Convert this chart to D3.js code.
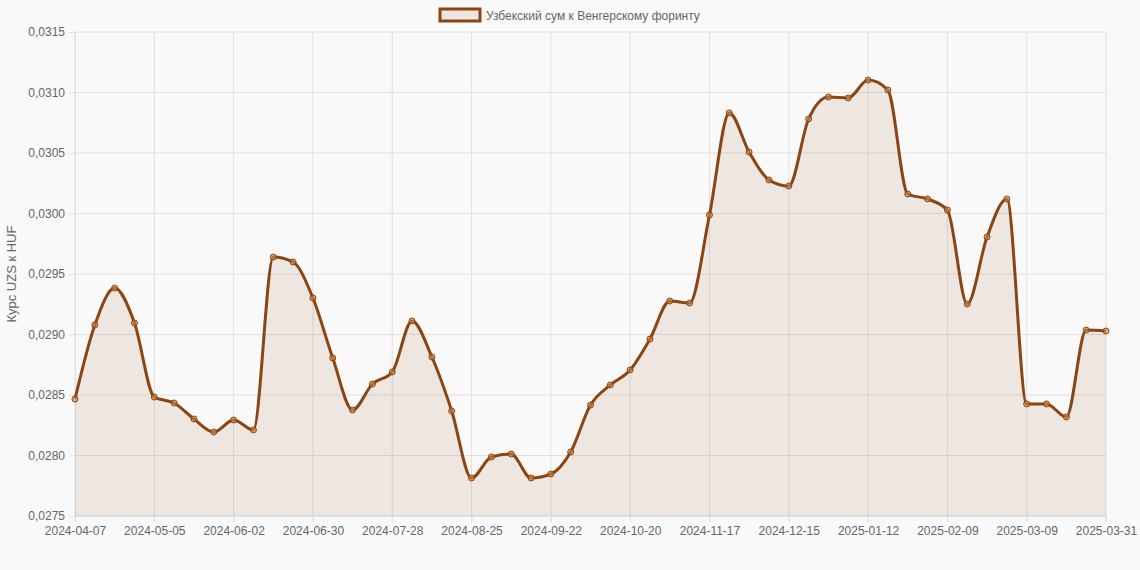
<!DOCTYPE html>
<html>
<head>
<meta charset="UTF-8">
<style>
  body { margin: 0; background: #f9f9f9; font-family: "Liberation Sans", Arial, sans-serif; }
  .grid line { stroke: #e0e0e0; }
  .axis text { fill: #666; font-size: 12px; }
</style>
</head>
<body>
<div id="chart"></div>
<script src="https://d3js.org/d3.v7.min.js"></script>
<script>
// Weekly dates (category labels)
const dates = [
  "2024-04-07","2024-04-14","2024-04-21","2024-04-28","2024-05-05","2024-05-12","2024-05-19","2024-05-26",
  "2024-06-02","2024-06-09","2024-06-16","2024-06-23","2024-06-30","2024-07-07","2024-07-14","2024-07-21",
  "2024-07-28","2024-08-04","2024-08-11","2024-08-18","2024-08-25","2024-09-01","2024-09-08","2024-09-15",
  "2024-09-22","2024-09-29","2024-10-06","2024-10-13","2024-10-20","2024-10-27","2024-11-03","2024-11-10",
  "2024-11-17","2024-11-24","2024-12-01","2024-12-08","2024-12-15","2024-12-22","2024-12-29","2025-01-05",
  "2025-01-12","2025-01-19","2025-01-26","2025-02-02","2025-02-09","2025-02-16","2025-02-23","2025-03-02",
  "2025-03-09","2025-03-16","2025-03-23","2025-03-30","2025-03-31"
];
// UZS -> HUF rate
const rates = [
  0.028467,0.029079,0.029384,0.029095,0.028483,0.028434,0.028302,0.028194,
  0.028293,0.028211,0.029640,0.029599,0.029302,0.028806,0.028376,0.028591,
  0.028690,0.029112,0.028814,0.028368,0.027814,0.027988,0.028012,0.027814,
  0.027847,0.028029,0.028417,0.028583,0.028707,0.028963,0.029277,0.029260,
  0.029988,0.030831,0.030508,0.030277,0.030227,0.030781,0.030963,0.030955,
  0.031103,0.031021,0.030161,0.030120,0.030029,0.029252,0.029806,0.030120,
  0.028426,0.028426,0.028318,0.029037,0.029029
];
const yTicks = [0.0275,0.028,0.0285,0.029,0.0295,0.03,0.0305,0.031,0.0315];
const seriesName = "Узбекский сум к Венгерскому форинту";
const yTitle = "Курс UZS к HUF";

const W = 1140, H = 570;
const margin = { top: 32, right: 34, bottom: 54, left: 75 };
const width = W - margin.left - margin.right, height = H - margin.top - margin.bottom;
const color = "#8b4513";

const svg = d3.select("#chart").append("svg").attr("width", W).attr("height", H);
const g = svg.append("g").attr("transform", `translate(${margin.left},${margin.top})`);

const x = d3.scalePoint().domain(dates).range([0, width]);
const y = d3.scaleLinear().domain([0.0275, 0.0315]).range([height, 0]);
const fmt = d => d3.format(".4f")(d).replace(".", ",");

const shown = dates.filter((d, i) => i % 4 === 0 || i === dates.length - 1);

// grid
g.append("g").attr("class", "grid")
  .selectAll("line").data(yTicks).join("line")
  .attr("x1", 0).attr("x2", width).attr("y1", d => y(d)).attr("y2", d => y(d));
g.append("g").attr("class", "grid")
  .selectAll("line").data(shown).join("line")
  .attr("x1", d => x(d)).attr("x2", d => x(d)).attr("y1", 0).attr("y2", height + 6);

// axes
g.append("g").attr("class", "axis")
  .call(d3.axisLeft(y).tickValues(yTicks).tickFormat(fmt).tickSize(6).tickPadding(4))
  .call(a => a.selectAll("line").attr("stroke", "#e0e0e0"))
  .select(".domain").attr("stroke", "#e0e0e0");
g.append("g").attr("class", "axis").attr("transform", `translate(0,${height})`)
  .call(d3.axisBottom(x).tickValues(shown).tickSize(6).tickPadding(4))
  .call(a => a.selectAll("line").attr("stroke", "#e0e0e0"))
  .select(".domain").attr("stroke", "#e0e0e0");

// area + line
const data = dates.map((d, i) => ({ d, v: rates[i] }));
g.append("path").datum(data)
  .attr("fill", "rgba(139,69,19,0.1)")
  .attr("d", d3.area().x(p => x(p.d)).y0(height).y1(p => y(p.v)).curve(d3.curveMonotoneX));
g.append("path").datum(data)
  .attr("fill", "none").attr("stroke", color).attr("stroke-width", 3)
  .attr("d", d3.line().x(p => x(p.d)).y(p => y(p.v)).curve(d3.curveMonotoneX));
g.selectAll("circle").data(data).join("circle")
  .attr("cx", p => x(p.d)).attr("cy", p => y(p.v)).attr("r", 3)
  .attr("fill", "rgba(205,133,63,0.6)").attr("stroke", color).attr("stroke-width", 1);

// y title
svg.append("text").attr("transform", `translate(16,${margin.top + height / 2}) rotate(-90)`)
  .attr("text-anchor", "middle").attr("fill", "#666").style("font-size", "13px").text(yTitle);

// legend
const lg = svg.append("g");
lg.append("rect").attr("x", 440).attr("y", 9).attr("width", 40).attr("height", 12)
  .attr("fill", "rgba(139,69,19,0.1)").attr("stroke", color).attr("stroke-width", 3);
lg.append("text").attr("x", 486).attr("y", 19.5).attr("fill", "#666")
  .style("font-size", "12px").text(seriesName);
</script>
</body>
</html>
